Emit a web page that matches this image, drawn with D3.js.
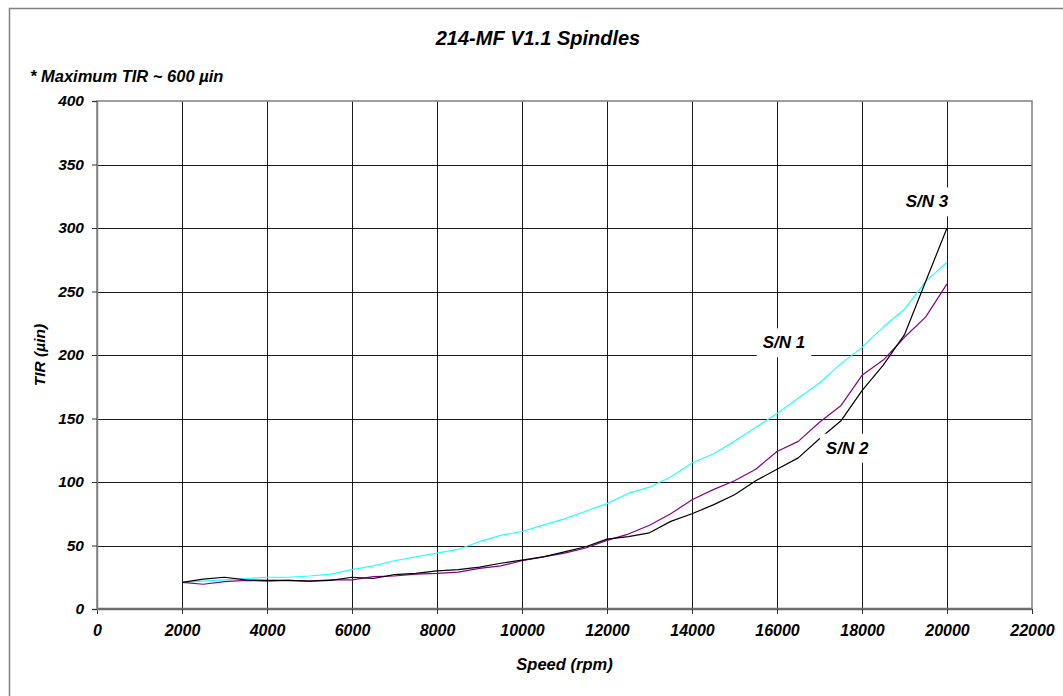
<!DOCTYPE html>
<html>
<head>
<meta charset="utf-8">
<script src="https://cdn.jsdelivr.net/npm/d3@7"></script>
<style>
html,body{margin:0;padding:0;background:#fff;}
svg{display:block;font-family:"Liberation Sans",Arial,sans-serif;font-weight:bold;font-style:italic;}
</style>
</head>
<body>
<svg id="chart" width="1063" height="696"></svg>
<script>
// ---- data ----
const speeds = [2000,2500,3000,3500,4000,4500,5000,5500,6000,6500,7000,7500,8000,8500,9000,9500,10000,10500,11000,11500,12000,12500,13000,13500,14000,14500,15000,15500,16000,16500,17000,17500,18000,18500,19000,19500,20000];
const sn1 = [21,22,23,24,25,25,26,27.5,31,34,38,41,44,47,53,58,61,66,71,77,83,91,96,104,115,122,132,143,154,166,178,193,206,222,236,258,273];
const sn2 = [21,19.5,21.5,22.5,22,22.5,22,23,23,25.5,26,27.5,28,29,32,34,38,41,44,48,54,59,66,75,86,94,101,110,124,132,147,160,184,196,214,230,256];
const sn3 = [21,23.5,25,23,22.5,22.5,22,22.5,25,24,27,28,30,31,33,36,38.5,41,45,49,55,57,60,69,75,82,90,101,110,119,134,148,172,192,216,258,300];
const xTicks = [0,2000,4000,6000,8000,10000,12000,14000,16000,18000,20000,22000];
const yTicks = [0,50,100,150,200,250,300,350,400];
const seriesNames = ["S/N 1","S/N 2","S/N 3"];
const seriesColors = ["#22ffff","#880088","#000000"];
const labels = [
  {text:"S/N 1", speed:16165, val:210},
  {text:"S/N 2", speed:17650, val:127},
  {text:"S/N 3", speed:19530, val:321}
];

// ---- layout ----
const svg = d3.select("#chart");
const L = 97, R = 1032, T = 101, B = 609;
const x = d3.scaleLinear().domain([0,22000]).range([L,R]);
const y = d3.scaleLinear().domain([0,400]).range([B,T]);

// outer frame
svg.append("rect").attr("x",9.5).attr("y",8.5).attr("width",1070).attr("height",700)
  .attr("fill","#fff").attr("stroke","#808080").attr("stroke-width",1.5);

// title
svg.append("text").attr("x",538).attr("y",45).attr("text-anchor","middle")
  .attr("font-size",20).attr("fill","#000").text("214-MF V1.1 Spindles");
svg.append("text").attr("x",30).attr("y",82).attr("font-size",16.5).attr("fill","#000")
  .text("* Maximum TIR ~ 600 \u00b5in");

// gridlines
const grid = svg.append("g");
grid.selectAll("line.h").data(yTicks.filter(d=>d>0&&d<400)).join("line")
  .attr("x1",L).attr("x2",R).attr("y1",d=>Math.round(y(d))+0.5).attr("y2",d=>Math.round(y(d))+0.5)
  .attr("stroke","#1a1a1a").attr("stroke-width",1);
grid.selectAll("line.v").data(xTicks.filter(d=>d>0&&d<22000)).join("line")
  .attr("y1",T).attr("y2",B).attr("x1",d=>Math.round(x(d))+0.5).attr("x2",d=>Math.round(x(d))+0.5)
  .attr("stroke","#1a1a1a").attr("stroke-width",1);

// plot border
svg.append("rect").attr("x",L).attr("y",T).attr("width",R-L).attr("height",B-T)
  .attr("fill","none").attr("stroke","#808080").attr("stroke-width",1.5);
svg.append("line").attr("x1",L).attr("x2",R).attr("y1",B).attr("y2",B)
  .attr("stroke","#6e6e6e").attr("stroke-width",2.5);

// axes
const tickFont = g => g.selectAll(".tick text").attr("font-family","Liberation Sans, Arial, sans-serif")
  .attr("font-weight","bold").attr("font-style","italic").attr("fill","#000");
const xAxis = d3.axisBottom(x).tickValues(xTicks).tickSize(5).tickPadding(11).tickFormat(d3.format("d"));
const gx = svg.append("g").attr("transform",`translate(0,${B})`).call(xAxis);
gx.select(".domain").remove();
gx.selectAll(".tick line").attr("stroke","#333");
gx.call(tickFont); gx.selectAll(".tick text").attr("font-size",16);

const yAxis = d3.axisLeft(y).tickValues(yTicks).tickSize(5).tickPadding(8).tickFormat(d3.format("d"));
const gy = svg.append("g").attr("transform",`translate(${L},0)`).call(yAxis);
gy.select(".domain").attr("stroke","#808080").attr("stroke-width",1.5);
gy.selectAll(".tick line").attr("stroke","#333");
gy.call(tickFont); gy.selectAll(".tick text").attr("font-size",15.5);

// axis titles
svg.append("text").attr("x",(L+R)/2).attr("y",670).attr("text-anchor","middle")
  .attr("font-size",16.5).attr("fill","#000").text("Speed (rpm)");
svg.append("text").attr("transform","translate(45,355) rotate(-90)").attr("text-anchor","middle")
  .attr("font-size",15.5).attr("fill","#000").text("TIR (\u00b5in)");

// series
const allSeries = [sn1,sn2,sn3];
const line = d3.line().x((d,i)=>x(speeds[i])).y(d=>y(d));
allSeries.forEach((s,k)=>{
  svg.append("path").datum(s).attr("d",line).attr("fill","none")
    .attr("stroke",seriesColors[k]).attr("stroke-width",1.2).attr("stroke-linejoin","round");
});

// labels with white boxes
labels.forEach(lb=>{
  const cx = x(lb.speed), cy = y(lb.val);
  const g = svg.append("g");
  const t = g.append("text").attr("x",cx).attr("y",cy+6).attr("text-anchor","middle")
    .attr("font-size",17).attr("fill","#000").text(lb.text);
  const bb = t.node().getBBox();
  g.insert("rect","text").attr("x",bb.x-6).attr("y",bb.y-5).attr("width",bb.width+12).attr("height",bb.height+10)
    .attr("fill","#fff");
});
</script>
</body>
</html>
